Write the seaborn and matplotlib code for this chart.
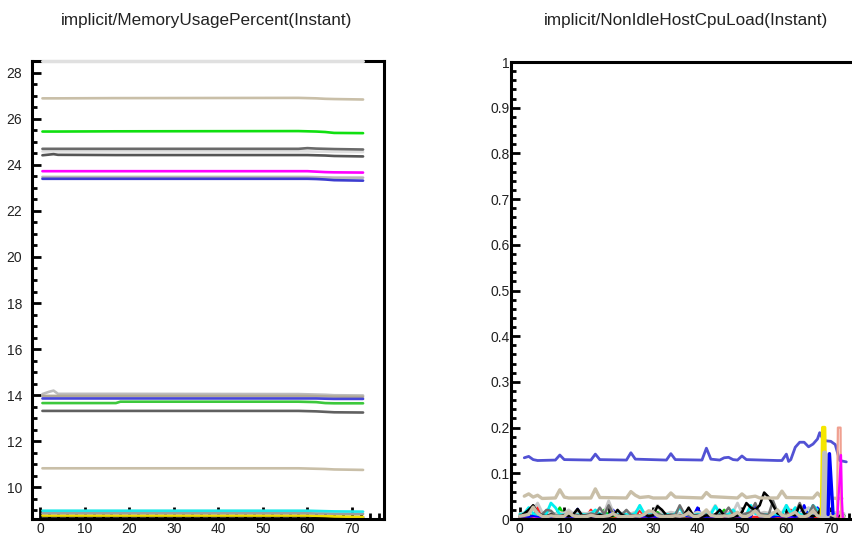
import matplotlib
matplotlib.use("Agg")
import matplotlib.pyplot as plt
from matplotlib.ticker import MultipleLocator, FuncFormatter
import seaborn as sns

# ---- memory usage (left panel), sampled at these minutes ----
mem_x = [0.5, 2, 3, 4, 17, 18, 58, 60, 62, 64, 66, 72.5]
mem_top = [28.5, 28.5, 28.5, 28.5, 28.5, 28.5, 28.5, 28.5, 28.5, 28.5, 28.5, 28.5]
mem_tan_hi = [26.88, 26.88, 26.88, 26.88, 26.89, 26.89, 26.9, 26.89, 26.88, 26.86, 26.85, 26.83]
mem_green_hi = [25.44, 25.44, 25.44, 25.44, 25.45, 25.45, 25.46, 25.45, 25.44, 25.42, 25.38, 25.37]
mem_grey_a = [24.69, 24.69, 24.69, 24.69, 24.69, 24.69, 24.69, 24.72, 24.7, 24.69, 24.68, 24.66]
mem_lgrey_a = [24.58, 24.58, 24.58, 24.58, 24.58, 24.58, 24.58, 24.58, 24.57, 24.57, 24.56, 24.55]
mem_grey_b = [24.41, 24.44, 24.46, 24.43, 24.42, 24.42, 24.42, 24.42, 24.41, 24.4, 24.38, 24.36]
mem_magenta = [23.72, 23.72, 23.72, 23.72, 23.72, 23.72, 23.72, 23.72, 23.7, 23.68, 23.67, 23.66]
mem_lgrey_b = [23.47, 23.47, 23.47, 23.47, 23.47, 23.47, 23.47, 23.47, 23.46, 23.45, 23.44, 23.44]
mem_blue_hi = [23.39, 23.39, 23.39, 23.39, 23.39, 23.39, 23.39, 23.39, 23.38, 23.36, 23.33, 23.31]
mem_lgrey_c = [14.05, 14.15, 14.2, 14.06, 14.06, 14.06, 14.05, 14.04, 14.03, 14.02, 14.0, 13.99]
mem_tan_mid = [13.97, 13.97, 13.97, 13.97, 13.97, 13.97, 13.97, 13.97, 13.96, 13.95, 13.94, 13.93]
mem_blue_lo = [13.86, 13.86, 13.86, 13.86, 13.86, 13.86, 13.86, 13.86, 13.86, 13.85, 13.84, 13.84]
mem_green_lo = [13.66, 13.66, 13.66, 13.66, 13.66, 13.72, 13.72, 13.71, 13.7, 13.66, 13.65, 13.65]
mem_grey_lo = [13.32, 13.32, 13.32, 13.32, 13.32, 13.32, 13.32, 13.31, 13.3, 13.28, 13.26, 13.25]
mem_tan_lo = [10.83, 10.83, 10.83, 10.83, 10.83, 10.83, 10.83, 10.82, 10.81, 10.8, 10.78, 10.76]
mem_cyan = [8.99, 8.99, 8.99, 8.99, 8.99, 8.99, 8.99, 8.99, 8.98, 8.97, 8.96, 8.95]
mem_grey_bot = [8.88, 8.88, 8.88, 8.88, 8.88, 8.88, 8.88, 8.88, 8.87, 8.87, 8.86, 8.85]
mem_black = [8.74, 8.74, 8.74, 8.74, 8.74, 8.74, 8.74, 8.74, 8.73, 8.72, 8.71, 8.71]
mem_yellow = [8.78, 8.78, 8.78, 8.78, 8.78, 8.78, 8.78, 8.78, 8.77, 8.76, 8.74, 8.72]

# ---- non idle host cpu load (right panel) ----
cpu_blue_x = [1, 2, 3, 4, 8, 9, 10, 16, 17, 18, 24, 25, 26, 33, 34, 35, 41, 42, 43, 45, 46, 47, 48,
              49, 50, 51, 58, 59, 60, 60.5, 61, 62, 63, 64, 65, 66, 67, 67.5, 68.3, 69, 70, 71, 72, 73.5]
cpu_blue_y = [0.134, 0.137, 0.13, 0.128, 0.129, 0.14, 0.13, 0.129, 0.142, 0.13, 0.129, 0.145, 0.131,
              0.129, 0.143, 0.13, 0.129, 0.155, 0.131, 0.129, 0.134, 0.135, 0.13, 0.129, 0.138, 0.13,
              0.128, 0.128, 0.142, 0.126, 0.13, 0.157, 0.168, 0.168, 0.158, 0.164, 0.175, 0.189,
              0.173, 0.171, 0.17, 0.163, 0.128, 0.125]

cpu_tan_x = [1, 2, 3, 4, 5, 8, 9, 10, 11, 16, 17, 18, 24, 25, 26, 27, 29, 30, 33, 34, 35, 41, 42, 43,
             49, 50, 51, 53, 54, 58, 59, 60, 66, 67, 68, 72.5]
cpu_tan_y = [0.05, 0.055, 0.048, 0.052, 0.045, 0.046, 0.064, 0.048, 0.046, 0.046, 0.066, 0.047,
             0.046, 0.06, 0.052, 0.047, 0.049, 0.046, 0.046, 0.057, 0.048, 0.046, 0.058, 0.049,
             0.046, 0.055, 0.047, 0.05, 0.046, 0.046, 0.061, 0.047, 0.046, 0.057, 0.046, 0.045]

cpu_t = list(range(74))
cpu_tan_lo = [0.006, 0.008, 0.01, 0.026, 0.012, 0.006, 0.005, 0.007, 0.006, 0.005,
              0.006, 0.015, 0.007, 0.005, 0.006, 0.005, 0.008, 0.006, 0.005, 0.006,
              0.007, 0.012, 0.006, 0.005, 0.006, 0.005, 0.007, 0.006, 0.01, 0.018,
              0.016, 0.007, 0.005, 0.006, 0.005, 0.007, 0.006, 0.008, 0.014, 0.006,
              0.005, 0.01, 0.02, 0.008, 0.006, 0.005, 0.007, 0.006, 0.008, 0.015,
              0.006, 0.005, 0.01, 0.018, 0.007, 0.006, 0.005, 0.012, 0.02, 0.008,
              0.006, 0.01, 0.015, 0.006, 0.005, 0.008, 0.018, 0.007, 0.005, 0.006,
              0.01, 0.006, 0.015, 0.006]
cpu_black = [0.005, 0.012, 0.02, 0.03, 0.012, 0.008, 0.006, 0.01, 0.006, 0.005,
             0.008, 0.006, 0.01, 0.022, 0.008, 0.006, 0.005, 0.007, 0.01, 0.006,
             0.005, 0.008, 0.02, 0.009, 0.006, 0.005, 0.007, 0.006, 0.01, 0.006,
             0.008, 0.028, 0.02, 0.008, 0.006, 0.005, 0.007, 0.009, 0.025, 0.008,
             0.006, 0.005, 0.008, 0.007, 0.01, 0.02, 0.008, 0.006, 0.005, 0.007,
             0.015, 0.035, 0.025, 0.02, 0.03, 0.058, 0.048, 0.03, 0.012, 0.008,
             0.006, 0.01, 0.008, 0.03, 0.012, 0.007, 0.006, 0.009, 0.028, 0.01,
             0.006, 0.005, 0.008, 0.007]
cpu_grey = [0.008, 0.01, 0.015, 0.03, 0.012, 0.01, 0.02, 0.018, 0.008, 0.007,
            0.009, 0.008, 0.01, 0.008, 0.007, 0.009, 0.012, 0.01, 0.025, 0.01,
            0.03, 0.012, 0.008, 0.01, 0.02, 0.009, 0.008, 0.007, 0.01, 0.008,
            0.009, 0.012, 0.008, 0.007, 0.01, 0.009, 0.03, 0.012, 0.008, 0.007,
            0.009, 0.008, 0.01, 0.009, 0.008, 0.01, 0.012, 0.025, 0.01, 0.008,
            0.009, 0.012, 0.015, 0.035, 0.012, 0.01, 0.009, 0.04, 0.015, 0.008,
            0.01, 0.009, 0.012, 0.035, 0.012, 0.01, 0.03, 0.012, 0.009, 0.008,
            0.01, 0.008, 0.009, 0.008]
cpu_lgrey = [0.012, 0.014, 0.016, 0.02, 0.035, 0.015, 0.012, 0.013, 0.012, 0.014,
             0.013, 0.02, 0.012, 0.014, 0.013, 0.012, 0.015, 0.013, 0.012, 0.014,
             0.04, 0.015, 0.012, 0.013, 0.014, 0.012, 0.015, 0.025, 0.013, 0.012,
             0.014, 0.03, 0.013, 0.012, 0.015, 0.013, 0.012, 0.014, 0.013, 0.012,
             0.015, 0.013, 0.012, 0.014, 0.03, 0.013, 0.012, 0.014, 0.015, 0.035,
             0.013, 0.012, 0.014, 0.013, 0.012, 0.015, 0.013, 0.014, 0.012, 0.013,
             0.03, 0.014, 0.012, 0.013, 0.015, 0.025, 0.013, 0.012, 0.014, 0.013,
             0.012, 0.014, 0.013, 0.012]
cpu_cyan = [0.01, 0.012, 0.025, 0.012, 0.01, 0.009, 0.012, 0.035, 0.025, 0.01,
            0.009, 0.01, 0.008, 0.009, 0.01, 0.009, 0.011, 0.02, 0.01, 0.009,
            0.008, 0.01, 0.009, 0.011, 0.01, 0.009, 0.012, 0.03, 0.012, 0.009,
            0.01, 0.009, 0.008, 0.01, 0.009, 0.011, 0.025, 0.01, 0.009, 0.008,
            0.01, 0.009, 0.011, 0.01, 0.028, 0.012, 0.009, 0.01, 0.02, 0.009,
            0.008, 0.01, 0.03, 0.012, 0.009, 0.01, 0.009, 0.011, 0.01, 0.009,
            0.03, 0.012, 0.025, 0.01, 0.009, 0.011, 0.03, 0.02, 0.01, 0.009,
            0.008, 0.01, 0.009, 0.008]
cpu_green = [0.006, 0.007, 0.006, 0.008, 0.007, 0.006, 0.007, 0.006, 0.008, 0.025,
             0.008, 0.006, 0.007, 0.006, 0.007, 0.006, 0.008, 0.007, 0.006, 0.02,
             0.007, 0.006, 0.008, 0.007, 0.006, 0.007, 0.006, 0.008, 0.007, 0.006,
             0.007, 0.015, 0.006, 0.007, 0.006, 0.008, 0.007, 0.006, 0.007, 0.006,
             0.008, 0.007, 0.006, 0.007, 0.006, 0.008, 0.02, 0.007, 0.006, 0.007,
             0.006, 0.008, 0.007, 0.028, 0.007, 0.006, 0.007, 0.006, 0.02, 0.007,
             0.006, 0.008, 0.007, 0.006, 0.007, 0.006, 0.008, 0.007, 0.006, 0.007,
             0.006, 0.008, 0.007, 0.006]
cpu_red = [0.004, 0.005, 0.004, 0.006, 0.025, 0.006, 0.004, 0.005, 0.004, 0.006,
           0.005, 0.004, 0.005, 0.004, 0.006, 0.005, 0.02, 0.005, 0.004, 0.006,
           0.005, 0.004, 0.005, 0.004, 0.006, 0.005, 0.004, 0.02, 0.005, 0.004,
           0.006, 0.005, 0.004, 0.005, 0.004, 0.006, 0.005, 0.004, 0.005, 0.004,
           0.022, 0.005, 0.004, 0.006, 0.005, 0.004, 0.005, 0.004, 0.018, 0.005,
           0.004, 0.006, 0.005, 0.004, 0.005, 0.004, 0.006, 0.005, 0.004, 0.005,
           0.004, 0.02, 0.005, 0.004, 0.006, 0.005, 0.004, 0.005, 0.004, 0.006,
           0.005, 0.004, 0.005, 0.004]
cpu_blue2 = [0.005, 0.006, 0.005, 0.007, 0.006, 0.005, 0.006, 0.005, 0.007, 0.006,
             0.005, 0.006, 0.005, 0.022, 0.006, 0.005, 0.006, 0.005, 0.007, 0.006,
             0.005, 0.02, 0.005, 0.006, 0.005, 0.007, 0.006, 0.005, 0.006, 0.005,
             0.006, 0.005, 0.007, 0.006, 0.005, 0.006, 0.005, 0.007, 0.006, 0.005,
             0.025, 0.006, 0.005, 0.006, 0.005, 0.02, 0.006, 0.005, 0.007, 0.006,
             0.005, 0.006, 0.005, 0.032, 0.006, 0.005, 0.006, 0.005, 0.007, 0.006,
             0.005, 0.006, 0.005, 0.007, 0.03, 0.006, 0.005, 0.025, 0.006, 0.005,
             0.006, 0.005, 0.007, 0.006]
cpu_magenta = [0.003, 0.004, 0.003, 0.005, 0.004, 0.003, 0.004, 0.003, 0.005, 0.004,
               0.003, 0.004, 0.003, 0.005, 0.004, 0.003, 0.004, 0.003, 0.005, 0.004,
               0.003, 0.004, 0.012, 0.005, 0.004, 0.003, 0.004, 0.003, 0.005, 0.004,
               0.003, 0.004, 0.003, 0.005, 0.004, 0.003, 0.004, 0.003, 0.005, 0.004,
               0.003, 0.004, 0.003, 0.005, 0.004, 0.003, 0.004, 0.015, 0.005, 0.004,
               0.003, 0.004, 0.003, 0.005, 0.004, 0.003, 0.004, 0.003, 0.005, 0.004,
               0.003, 0.004, 0.003, 0.005, 0.004, 0.003, 0.004, 0.003, 0.005, 0.004,
               0.003, 0.004, 0.003, 0.005]

# hosts that jump at the very end
spike_yellow_x = [67.9, 68.2, 68.6, 68.9]
spike_yellow_y = [0.01, 0.2, 0.2, 0.0]
spike_grey_x = [68.3, 68.6, 68.9, 69.2]
spike_grey_y = [0.006, 0.145, 0.14, 0.0]
spike_blue_x = [69.4, 69.7, 70.5]
spike_blue_y = [0.01, 0.143, 0.012]
spike_salmon_x = [71.4, 71.6, 72.2, 72.3]
spike_salmon_y = [0.005, 0.2, 0.2, 0.0]
spike_magenta_x = [71.5, 72.3, 72.5, 72.7]
spike_magenta_y = [0.006, 0.14, 0.045, 0.004]

TAN = "#c9bfa8"
sns.set_theme(style="white")
plt.rcParams["font.family"] = ["Liberation Sans", "DejaVu Sans"]

fig = plt.figure(figsize=(8.53, 5.38), dpi=100)
ax1 = fig.add_axes([0.0372, 0.0353, 0.4135, 0.8513])
ax2 = fig.add_axes([0.599, 0.0353, 0.4135, 0.8494])

mem_series = [
    (mem_tan_hi, TAN), (mem_green_hi, "#10e010"), (mem_lgrey_a, "#e0e0e0"),
    (mem_grey_a, "#6a6a6a"), (mem_grey_b, "#555555"), (mem_magenta, "#ff00ff"),
    (mem_lgrey_b, "#b8b8b8"), (mem_blue_hi, "#3c3cd0"),
    (mem_lgrey_c, "#bdbdbd"), (mem_tan_mid, "#b0a898"), (mem_blue_lo, "#4646d8"),
    (mem_green_lo, "#3cc83c"), (mem_grey_lo, "#606060"), (mem_tan_lo, TAN),
    (mem_black, "#000000"), (mem_yellow, "#f0e000"), (mem_grey_bot, "#a0a0a0"),
    (mem_cyan, "#20e8e8"),
]
for vals, col in mem_series:
    sns.lineplot(x=mem_x, y=vals, color=col, lw=1.9, ax=ax1, sort=False)
sns.lineplot(x=mem_x, y=mem_top, color="#e0e0e0", lw=2.2, ax=ax1, sort=False,
             zorder=3, clip_on=False)

noise = [
    (cpu_magenta, "#ff00ff", 1.5), (cpu_red, "#ff2020", 1.8), (cpu_green, "#10d010", 1.8),
    (cpu_blue2, "#0000ff", 1.8), (cpu_lgrey, "#c8c8c8", 2.0), (cpu_cyan, "#00f0f0", 2.0),
    (cpu_grey, "#707070", 1.8), (cpu_black, "#000000", 1.8),
]
for vals, col, w in noise:
    sns.lineplot(x=cpu_t, y=vals, color=col, lw=w, ax=ax2, sort=False)
sns.lineplot(x=cpu_t, y=cpu_tan_lo, color=TAN, lw=2.4, ax=ax2, sort=False)
sns.lineplot(x=cpu_tan_x, y=cpu_tan_y, color=TAN, lw=2.4, ax=ax2, sort=False)
sns.lineplot(x=cpu_blue_x, y=cpu_blue_y, color="#5252d4", lw=2.0, ax=ax2, sort=False)
for xs, ys, col, w in [(spike_yellow_x, spike_yellow_y, "#f5e600", 2.6),
                       (spike_grey_x, spike_grey_y, "#c0c0c0", 3.4),
                       (spike_blue_x, spike_blue_y, "#0000ff", 2.4),
                       (spike_salmon_x, spike_salmon_y, "#f0a090", 1.6),
                       (spike_magenta_x, spike_magenta_y, "#ff00ff", 1.6)]:
    sns.lineplot(x=xs, y=ys, color=col, lw=w, ax=ax2, sort=False)

ax1.set_xlim(-1.9, 77.3)
ax1.set_ylim(8.63, 28.5)
ax2.set_xlim(-2.0, 77.4)
ax2.set_ylim(0, 1)

ax1.xaxis.set_major_locator(MultipleLocator(10))
ax1.xaxis.set_minor_locator(MultipleLocator(2))
ax1.yaxis.set_major_locator(MultipleLocator(2))
ax1.yaxis.set_minor_locator(MultipleLocator(0.5))
ax2.xaxis.set_major_locator(MultipleLocator(10))
ax2.xaxis.set_minor_locator(MultipleLocator(2))
ax2.yaxis.set_major_locator(MultipleLocator(0.1))
ax2.yaxis.set_minor_locator(MultipleLocator(0.02))
ax2.yaxis.set_major_formatter(FuncFormatter(lambda v, p: f"{v:g}"))

for ax, ypad in [(ax1, 7), (ax2, 1)]:
    ax.set_xlabel("")
    ax.set_ylabel("")
    ax.set_axisbelow(True)
    for s in ax.spines.values():
        s.set_visible(True)
        s.set_color("black")
        s.set_linewidth(2.2)
    ax.tick_params(which="both", direction="in", top=False, right=False,
                   bottom=True, left=True,
                   colors="black", width=2.0, labelsize=10, labelcolor="#222222")
    ax.tick_params(axis="x", which="major", length=9, pad=2)
    ax.tick_params(axis="x", which="minor", length=4.5)
    ax.tick_params(axis="y", which="major", length=6.5, pad=ypad)
    ax.tick_params(axis="y", which="minor", length=3.3)

fig.text(207 / 853, 1 - 20 / 538, "implicit/MemoryUsagePercent(Instant)",
         ha="center", va="center", fontsize=12.3, color="#222222")
fig.text(686 / 853, 1 - 20 / 538, "implicit/NonIdleHostCpuLoad(Instant)",
         ha="center", va="center", fontsize=12.3, color="#222222")

fig.savefig("out.png", dpi=100)
